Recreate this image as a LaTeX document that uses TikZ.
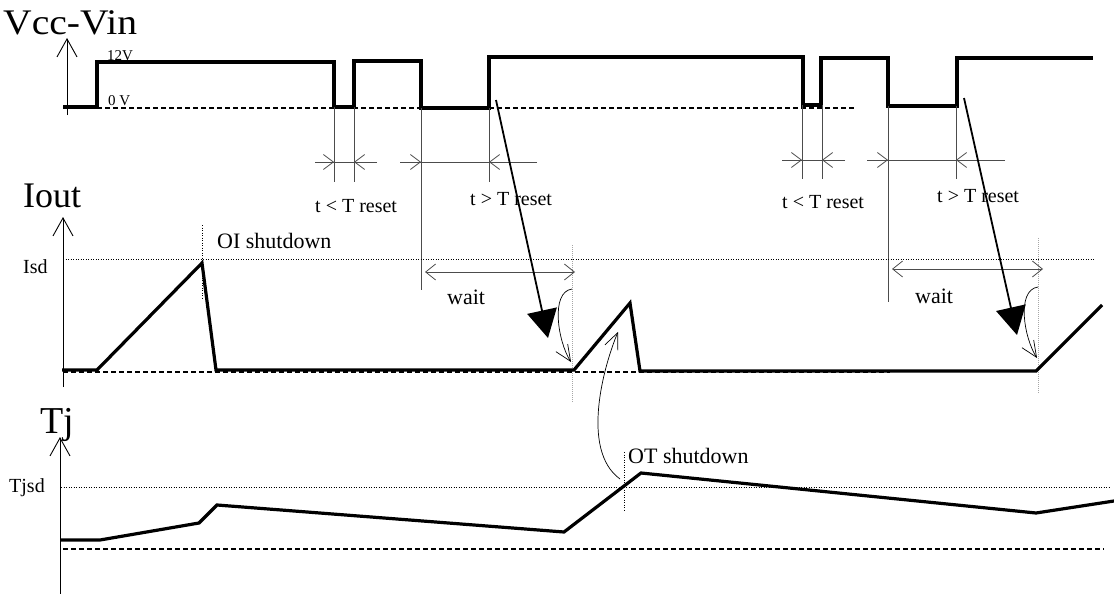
\documentclass[tikz,border=0pt]{standalone}
\usepackage{fontspec}
\setmainfont{Liberation Serif}
\usepackage{graphicx}
\usetikzlibrary{arrows.meta}
\begin{document}
\begin{tikzpicture}[x=1pt,y=-1pt,
  sig/.style={line width=3.2pt},
  thinln/.style={line width=0.8pt, black!70},
  dimtip/.style={thinln, -{Straight Barb[length=10pt,width=15pt]}},
  waittip/.style={thinln, {Straight Barb[length=10pt,width=16pt]}-{Straight Barb[length=10pt,width=16pt]}},
  axisln/.style={line width=0.9pt, -{Straight Barb[length=18pt,width=20pt]}},
  bigarrow/.style={line width=1.8pt, -{Triangle[length=28pt,width=30pt]}},
  curv/.style={line width=0.7pt, -{Straight Barb[length=16pt,width=14pt]}},
  dotln/.style={line width=0.9pt, dash pattern=on 1pt off 1.5pt},
  dashln/.style={line width=1.1pt, dash pattern=on 5pt off 3pt},
  greydot/.style={line width=0.8pt, black!35, dash pattern=on 1pt off 1pt},
  lbl/.style={inner sep=0pt, anchor=base west},
  biglbl/.style={lbl, font=\fontsize{36}{36}\selectfont},
  smalllbl/.style={lbl, font=\fontsize{20}{20}\selectfont},
  midlbl/.style={lbl, font=\fontsize{22}{22}\selectfont},
  tinylbl/.style={lbl, font=\fontsize{15}{15}\selectfont}
]
\useasboundingbox (0,0) rectangle (1114,594);

% ---------------- Vcc-Vin panel ----------------
\node[biglbl] (vcc) at (3,35) {\scalebox{1.1}[1]{Vcc-Vin}};
\coordinate (vax0) at (67,115);
\coordinate (vax1) at (67,38);
\draw[axisln] (vax0) -- (vax1);
\node[tinylbl] (v12) at (107,60) {12V};
\node[tinylbl] (v0) at (108,106) {0 V};
\draw[dashln] (97,108) -- (855,108);
\draw[sig] (63,107) -- (97,107) -- (97,62) -- (334,62) -- (334,107) -- (354,107)
  -- (354,61) -- (421,61) -- (421,108) -- (489,108) -- (489,57) -- (803,57)
  -- (803,105) -- (821,105) -- (821,58) -- (888,58) -- (888,106) -- (957,106)
  -- (957,58) -- (1093,58);

% timing markers
\draw[thinln] (334,107) -- (334,182);
\draw[thinln] (354,107) -- (354,182);
\draw[thinln] (421,108) -- (421,290);
\draw[thinln] (489,108) -- (489,182);
\draw[thinln] (802,105) -- (802,179);
\draw[thinln] (822,105) -- (822,179);
\draw[thinln] (888,106) -- (888,302);
\draw[thinln] (956,106) -- (956,179);

\draw[thinln] (315,162) -- (377,162);
\draw[dimtip] (315,162) -- (334,162);
\draw[dimtip] (377,162) -- (354,162);
\draw[thinln] (400,162) -- (537,162);
\draw[dimtip] (400,162) -- (421,162);
\draw[dimtip] (537,162) -- (489,162);
\draw[thinln] (782,160) -- (845,160);
\draw[dimtip] (782,160) -- (802,160);
\draw[dimtip] (845,160) -- (822,160);
\draw[thinln] (867,160) -- (1005,160);
\draw[dimtip] (867,160) -- (888,160);
\draw[dimtip] (1005,160) -- (956,160);

\node[smalllbl] (tl1) at (315,212) {t < T reset};
\node[smalllbl] (tg1) at (470,205) {t > T reset};
\node[smalllbl] (tl2) at (782,208) {t < T reset};
\node[smalllbl] (tg2) at (937,202) {t > T reset};

% ---------------- Iout panel ----------------
\node[biglbl] (iout) at (23,207) {Iout};
\coordinate (iax0) at (63,387);
\coordinate (iax1) at (63,217);
\draw[axisln] (iax0) -- (iax1);
\node[smalllbl] (isd) at (23,273) {Isd};
\draw[dotln] (63,259) -- (1095,259);
\draw[dotln] (202,225) -- (202,300);
\node[midlbl] (oi) at (217,248) {OI shutdown};
\draw[dashln] (63,372) -- (890,372);
\draw[greydot] (572,245) -- (572,402);
\draw[greydot] (1038,238) -- (1038,394);
\draw[sig] (62,370) -- (97,370) -- (202,263) -- (216,370) -- (574,370) -- (630,303)
  -- (640,371) -- (1036,371) -- (1102,305);

\draw[waittip] (425,272) -- (575,272);
\draw[waittip] (892,269) -- (1043,269);
\node[midlbl] (w1) at (447,304) {wait};
\node[midlbl] (w2) at (915,303) {wait};

% big arrows
\coordinate (b1s) at (496,100);
\coordinate (b1e) at (548,338);
\draw[bigarrow] (b1s) -- (b1e);
\coordinate (b2s) at (964,98);
\coordinate (b2e) at (1017,335);
\draw[bigarrow] (b2s) -- (b2e);

% curved arrows
\coordinate (c1s) at (572,289);
\coordinate (c1e) at (571,362);
\draw[curv] (c1s) .. controls (550,292) and (558,342) .. (c1e);
\coordinate (c2s) at (1038,287);
\coordinate (c2e) at (1037,358);
\draw[curv] (c2s) .. controls (1016,290) and (1024,338) .. (c2e);
\coordinate (c3s) at (620,479);
\coordinate (c3e) at (618,332);
\draw[curv] (c3s) .. controls (580,450) and (604,365) .. (c3e);

% ---------------- Tj panel ----------------
\node[lbl, font=\fontsize{38}{38}\selectfont] (tj) at (40,433) {Tj};
\coordinate (tax0) at (60,594);
\coordinate (tax1) at (60,437);
\draw[axisln] (tax0) -- (tax1);
\node[smalllbl] (tjsd) at (9,492) {Tjsd};
\draw[dotln] (61,487) -- (1109,487);
\draw[dashln] (63,549) -- (1104,549);
\draw[dotln] (624,452) -- (624,512);
\node[midlbl] (ot) at (628,463) {OT shutdown};
\draw[sig] (60,540) -- (100,540) -- (199,523) -- (217,505) -- (564,532) -- (641,473)
  -- (1036,513) -- (1114,501);

\end{tikzpicture}
\end{document}
